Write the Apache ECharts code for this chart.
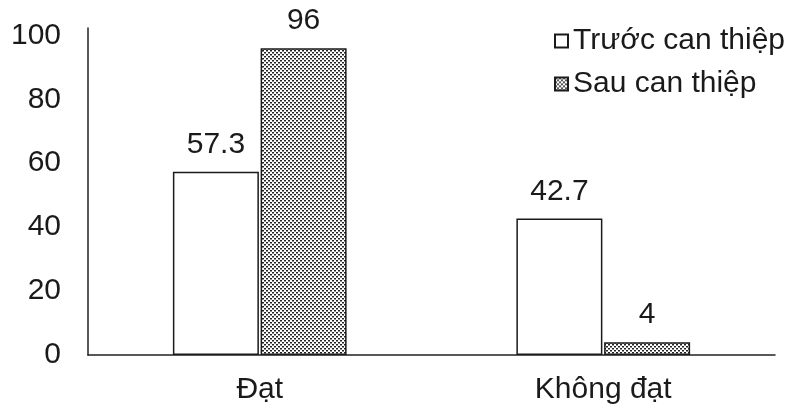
<!DOCTYPE html>
<html>
<head>
<meta charset="utf-8">
<script src="https://cdn.jsdelivr.net/npm/echarts@6/dist/echarts.min.js"></script>
<style>
  html, body { margin: 0; padding: 0; background: #fff; }
  #chart { width: 793px; height: 410px; }
</style>
</head>
<body>
<div id="chart"></div>
<script>
const categories = ['Đạt', 'Không đạt']
const truocValues = [57.3, 42.7]
const sauValues = [96, 4]
const seriesNames = ['Trước can thiệp', 'Sau can thiệp']

// dotted fill like the original
function dotPattern() {
  const c = document.createElement('canvas')
  c.width = 4
  c.height = 4
  const ctx = c.getContext('2d')
  ctx.fillStyle = '#fff'
  ctx.fillRect(0, 0, 4, 4)
  ctx.fillStyle = '#222'
  ctx.fillRect(0, 0, 2, 1.5)
  ctx.fillRect(2, 2, 2, 1.5)
  return c
}

const font = 'Liberation Sans, Arial, sans-serif'
const textColor = '#1a1a1a'
const myChart = echarts.init(document.getElementById('chart'))

const labelStyle = {
  show: true,
  position: 'top',
  distance: 12,
  fontSize: 30,
  fontFamily: font,
  color: textColor,
}

const option = {
  backgroundColor: '#fff',
  animation: false,
  legend: {
    orient: 'vertical',
    left: 549,
    top: 21,
    icon: 'rect',
    itemWidth: 13,
    itemHeight: 13,
    itemGap: 13,
    textStyle: {
      fontSize: 30,
      lineHeight: 30,
      fontFamily: font,
      color: textColor,
    },
    data: seriesNames,
  },
  grid: {
    left: 88,
    right: 18,
    top: 28,
    bottom: 55,
  },
  xAxis: {
    type: 'category',
    data: categories,
    axisLine: { lineStyle: { color: '#222', width: 1.5 } },
    axisTick: { show: false },
    axisLabel: {
      fontSize: 30,
      fontFamily: font,
      color: textColor,
      margin: 20,
    },
  },
  yAxis: {
    type: 'value',
    min: 0,
    max: 102.3,
    interval: 20,
    axisLine: { show: true, lineStyle: { color: '#222', width: 1.5 } },
    axisTick: { show: false },
    splitLine: { show: false },
    axisLabel: {
      fontSize: 30,
      fontFamily: font,
      color: textColor,
      margin: 27,
      showMaxLabel: false,
    },
  },
  series: [
    {
      name: seriesNames[0],
      type: 'bar',
      data: truocValues,
      barWidth: 86,
      barGap: '2%',
      itemStyle: { color: '#fff', borderColor: textColor, borderWidth: 1.5 },
      label: labelStyle,
    },
    {
      name: seriesNames[1],
      type: 'bar',
      data: sauValues,
      barWidth: 86,
      barGap: '2%',
      itemStyle: {
        color: { image: dotPattern(), repeat: 'repeat' },
        borderColor: textColor,
        borderWidth: 1.5,
      },
      label: labelStyle,
    },
  ],
}
myChart.setOption(option, true)
</script>
</body>
</html>
